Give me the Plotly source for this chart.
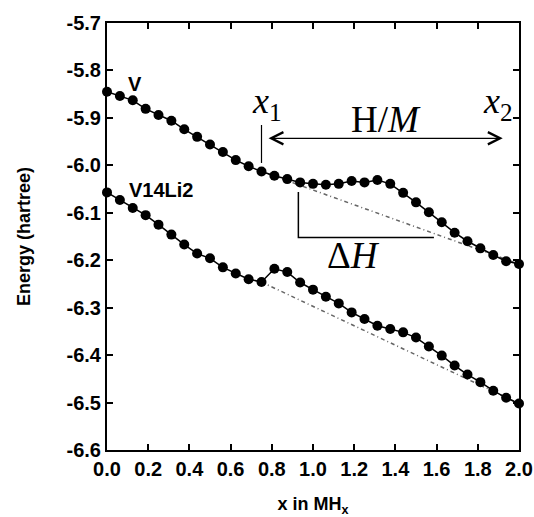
import plotly.graph_objects as go

# ---- data ----
x_vals = [0.0, 0.0625, 0.125, 0.1875, 0.25, 0.3125, 0.375, 0.4375, 0.5, 0.5625,
          0.625, 0.6875, 0.75, 0.8125, 0.875, 0.9375, 1.0, 1.0625, 1.125, 1.1875,
          1.25, 1.3125, 1.375, 1.4375, 1.5, 1.5625, 1.625, 1.6875, 1.75, 1.8125,
          1.875, 1.9375, 2.0]

energy_V = [-5.845, -5.854, -5.863, -5.881, -5.894, -5.906, -5.924, -5.940, -5.956, -5.972,
            -5.989, -6.002, -6.013, -6.022, -6.029, -6.036, -6.039, -6.041, -6.039, -6.033,
            -6.036, -6.031, -6.039, -6.058, -6.078, -6.099, -6.120, -6.142, -6.160, -6.175,
            -6.189, -6.202, -6.208]

energy_V14Li2 = [-6.057, -6.073, -6.090, -6.105, -6.125, -6.146, -6.167, -6.186, -6.196, -6.215,
                 -6.228, -6.240, -6.246, -6.218, -6.225, -6.247, -6.262, -6.277, -6.291, -6.310,
                 -6.324, -6.338, -6.345, -6.352, -6.363, -6.382, -6.401, -6.422, -6.441, -6.457,
                 -6.475, -6.490, -6.502]

x_tickvals = [0.0, 0.2, 0.4, 0.6, 0.8, 1.0, 1.2, 1.4, 1.6, 1.8, 2.0]
x_ticktext = ["0.0", "0.2", "0.4", "0.6", "0.8", "1.0", "1.2", "1.4", "1.6", "1.8", "2.0"]
y_tickvals = [-5.7, -5.8, -5.9, -6.0, -6.1, -6.2, -6.3, -6.4, -6.5, -6.6]
y_ticktext = ["-5.7", "-5.8", "-5.9", "-6.0", "-6.1", "-6.2", "-6.3", "-6.4", "-6.5", "-6.6"]

i1 = 12   # index of x1 (tangent start)
i2 = 32   # index of x2 (tangent end)

SANS = "Liberation Sans, Arial, sans-serif"
SERIF = "Liberation Serif, Times New Roman, serif"

fig = go.Figure()

# common tangent (tie) lines
for series in (energy_V, energy_V14Li2):
    fig.add_trace(go.Scatter(
        x=[x_vals[i1], x_vals[i2]], y=[series[i1], series[i2]],
        mode="lines", line=dict(color="#666666", width=1.5, dash="4px,3px,1px,3px"),
        showlegend=False, hoverinfo="skip"))

for series, name in ((energy_V, "V"), (energy_V14Li2, "V14Li2")):
    fig.add_trace(go.Scatter(
        x=x_vals, y=series, name=name, mode="lines+markers",
        line=dict(color="black", width=1.5),
        marker=dict(color="black", size=10, symbol="circle"),
        showlegend=False, cliponaxis=False))

# x1 marker line
fig.add_shape(type="line", xref="x", yref="y",
              x0=x_vals[i1], x1=x_vals[i1], y0=-5.915, y1=-5.995,
              line=dict(color="black", width=1.2))
# Delta H bracket
fig.add_shape(type="path", xref="x", yref="y",
              path="M 0.929,-6.056 L 0.929,-6.152 L 1.587,-6.152",
              line=dict(color="black", width=1.5))

annotations = [
    dict(x=0.137, y=-5.829, text="V", font=dict(family=SANS, size=20, color="black", weight="bold")),
    dict(x=0.263, y=-6.052, text="V14Li2", font=dict(family=SANS, size=20, color="black", weight="bold")),
    dict(x=0.775, y=-5.870, text="<i>x</i><sub>1</sub>", font=dict(family=SERIF, size=36, color="black")),
    dict(x=1.897, y=-5.870, text="<i>x</i><sub>2</sub>", font=dict(family=SERIF, size=36, color="black")),
    dict(x=1.354, y=-5.904, text="H/<i>M</i>", font=dict(family=SERIF, size=37, color="black")),
    dict(x=1.199, y=-6.189, text="Δ<i>H</i>", font=dict(family=SERIF, size=37, color="black")),
]
for a in annotations:
    fig.add_annotation(xref="x", yref="y", showarrow=False, xanchor="center", yanchor="middle", **a)

# double-headed arrow H/M
fig.add_annotation(xref="x", yref="y", axref="x", ayref="y",
                   x=1.921, y=-5.943, ax=0.777, ay=-5.943, text="",
                   showarrow=True, arrowhead=5, startarrowhead=5, arrowside="end+start",
                   arrowsize=2, startarrowsize=2, arrowwidth=1.2, arrowcolor="black",
                   standoff=0, startstandoff=0)

axis_common = dict(
    showline=True, linecolor="black", linewidth=2, mirror="ticks",
    ticks="inside", ticklen=6, tickwidth=2, tickcolor="black",
    showgrid=False, zeroline=False,
    tickfont=dict(family=SANS, size=20, color="black", weight="bold"),
)

fig.update_xaxes(range=[0, 2], tickvals=x_tickvals, ticktext=x_ticktext,
                 title=dict(text="x in MH<sub>x</sub>", standoff=20,
                            font=dict(family=SANS, size=18, color="black", weight="bold")),
                 **axis_common)
fig.update_yaxes(range=[-6.6, -5.7], tickvals=y_tickvals, ticktext=y_ticktext,
                 title=dict(text="Energy (hartree)", standoff=31,
                            font=dict(family=SANS, size=18, color="black", weight="bold")),
                 **axis_common)

fig.update_layout(
    width=534, height=517,
    margin=dict(l=107, r=15, t=23, b=67, autoexpand=False),
    plot_bgcolor="white", paper_bgcolor="white",
)

fig.write_html("out.html", config={"displayModeBar": False},
               post_script="document.body.style.margin='0';document.body.style.overflow='hidden';")
